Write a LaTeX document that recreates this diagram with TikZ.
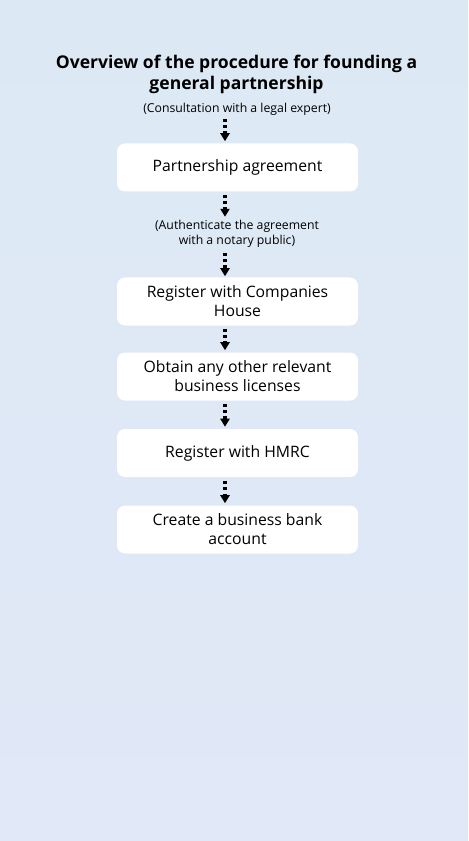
\documentclass[tikz,border=0pt]{standalone}
\usepackage{fontspec}
\setmainfont{Open Sans}
\usetikzlibrary{arrows.meta,positioning,calc}
\definecolor{BgTop}{RGB}{220,233,244}
\definecolor{BgBottom}{RGB}{225,232,247}

\begin{document}
\begin{tikzpicture}[x=0.75pt,y=-0.75pt,
  stepbox/.style={fill=white,rounded corners=6pt,minimum width=180.75pt,minimum height=36pt,
    align=center,font=\fontsize{11.8}{14.25}\selectfont,inner sep=2pt},
  note/.style={align=center,font=\fontsize{9.2}{11.25}\selectfont,inner sep=1pt},
  flow/.style={line width=2.3pt,dash pattern=on 2.3pt off 2.3pt,-{Triangle[width=6.8pt,length=6pt]}}]
% background
\shade[top color=BgTop,bottom color=BgBottom] (0,0) rectangle (468,841);
\useasboundingbox (0,0) rectangle (468,841);
%
\node[align=center,font=\fontsize{13.15}{15.75}\selectfont\bfseries] (title) at (236.5,74)
  {Overview of the procedure for founding a\\general partnership};
\node[note] (consult) at (237,109.5) {(Consultation with a legal expert)};
\coordinate (ax) at (225,0);
%
\node[stepbox] (agree) at (237.5,167.5) {Partnership agreement};
\node[note] (notary) at (237,234) {(Authenticate the agreement\\with a notary public)};
\node[stepbox] (house) at (237.5,301.5) {Register with Companies\\House};
\node[stepbox] (licence) at (237.5,376.5) {Obtain any other relevant\\business licenses};
\node[stepbox] (hmrc) at (237.5,453) {Register with HMRC};
\node[stepbox] (bank) at (237.5,529.5) {Create a business bank\\account};
%
% dotted connectors
\draw[flow] ($(consult.south -| ax)+(0,2)$) -- ($(agree.north -| ax)+(0,-2)$);
\draw[flow] ($(agree.south -| ax)+(0,3)$) -- ($(notary.north -| ax)+(0,-2)$);
\draw[flow] ($(notary.south -| ax)+(0,4)$) -- ($(house.north -| ax)+(0,-1)$);
\draw[flow] ($(house.south -| ax)+(0,3)$) -- ($(licence.north -| ax)+(0,-2)$);
\draw[flow] ($(licence.south -| ax)+(0,3)$) -- ($(hmrc.north -| ax)+(0,-2)$);
\draw[flow] ($(hmrc.south -| ax)+(0,4)$) -- ($(bank.north -| ax)+(0,-2)$);
%
\end{tikzpicture}
\end{document}
